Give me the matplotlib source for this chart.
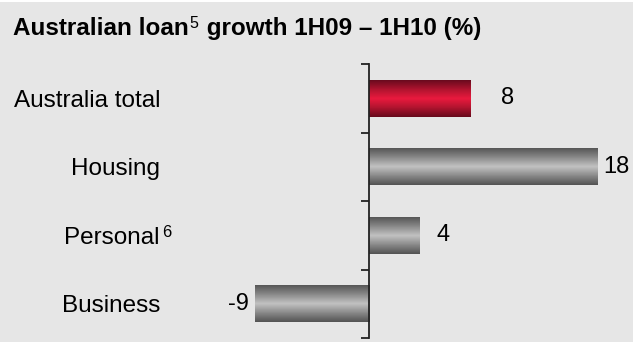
import matplotlib.pyplot as plt
import numpy as np
from matplotlib.colors import LinearSegmentedColormap
from matplotlib.patches import Rectangle

plt.rcParams['font.family'] = ['Liberation Sans', 'DejaVu Sans']

categories = ["Australia total", "Housing", "Personal", "Business"]
growth = [8, 18, 4, -9]
footnotes = {"Personal": "6"}

# label placement per bar: (offset in px, horizontal alignment)
label_offsets = [(37, 'center'), (5, 'left'), (23, 'center'), (-6, 'right')]

W, H = 643, 342
fig = plt.figure(figsize=(W / 100, H / 100), dpi=100, facecolor='white')
fig.patches.append(Rectangle((0, 0), 633 / W, 340 / H, transform=fig.transFigure,
                             facecolor='#e6e6e6', edgecolor='none', zorder=-10))

xmin, xmax = -11, 21
px_per_unit = 12.72
left_px = 369 - (0 - xmin) * px_per_unit
width_px = (xmax - xmin) * px_per_unit
ax = fig.add_axes([left_px / W, 4 / H, width_px / W, 274 / H])
ax.set_facecolor('none')

y = np.arange(len(categories))
bars = ax.barh(y, growth, height=0.54, color='none', edgecolor='none')

gray_cmap = LinearSegmentedColormap.from_list('gray_tube', ['#575757', '#8a8a8a', '#c2c2c2', '#8a8a8a', '#545454'])
red_cmap = LinearSegmentedColormap.from_list('red_tube', ['#6a0a1e', '#b0142f', '#ea1a3e', '#b0142f', '#680a1c'])
profile = np.linspace(0, 1, 64).reshape(-1, 1)

for i, rect in enumerate(bars):
    x0, y0 = rect.get_xy()
    w, h = rect.get_width(), rect.get_height()
    cmap = red_cmap if i == 0 else gray_cmap
    img = ax.imshow(profile, cmap=cmap, aspect='auto', interpolation='bilinear',
                    extent=(x0, x0 + w, y0 + h, y0), zorder=2)
    img.set_clip_path(rect)

    dx, ha = label_offsets[i]
    ax.annotate(f"{growth[i]}", xy=(growth[i], y[i]), xytext=(dx * 0.72, 0),
                textcoords='offset points', ha=ha, va='center', fontsize=17, color='black')

ax.set_xlim(xmin, xmax)
ax.set_ylim(len(categories) - 0.5, -0.5)

for s in ['top', 'right', 'bottom']:
    ax.spines[s].set_visible(False)
ax.spines['left'].set_position(('data', 0))
ax.spines['left'].set_color('#222222')
ax.spines['left'].set_linewidth(1.3)
ax.spines['left'].set_zorder(3)
ax.set_xticks([])

ax.set_yticks(y)
ax.set_yticklabels(categories, fontsize=17.5)
ax.tick_params(axis='y', which='major', length=0, pad=(369 - 160) * 0.72)
ax.set_yticks(np.arange(len(categories) + 1) - 0.5, minor=True)
ax.tick_params(axis='y', which='minor', length=6, width=1.3, color='#222222', direction='out')

# superscript footnote markers
fig.canvas.draw()
for lbl in ax.get_yticklabels():
    note = footnotes.get(lbl.get_text())
    if note:
        ax.annotate(note, xy=(1, 1), xycoords=lbl, xytext=(1.5, 1.5), textcoords='offset points',
                    ha='left', va='top', fontsize=12, annotation_clip=False)

# title with a non-bold superscript footnote
t1 = fig.text(13 / W, 1 - 35 / H, "Australian loan", fontsize=17.5, fontweight='bold',
              ha='left', va='baseline')
t2 = fig.text(0, 0, "5", fontsize=11.5, ha='left', va='baseline')
fig.canvas.draw()
r = fig.canvas.get_renderer()
bb = t1.get_window_extent(r)
t2.set_position(((bb.x1 + 1) / W, 1 - 28 / H))
bb2 = t2.get_window_extent(r)
fig.text((bb2.x1 + 1) / W, 1 - 35 / H, " growth 1H09 \u2013 1H10 (%)", fontsize=17.5,
         fontweight='bold', ha='left', va='baseline')

fig.savefig('out.png', dpi=100, facecolor='white')
